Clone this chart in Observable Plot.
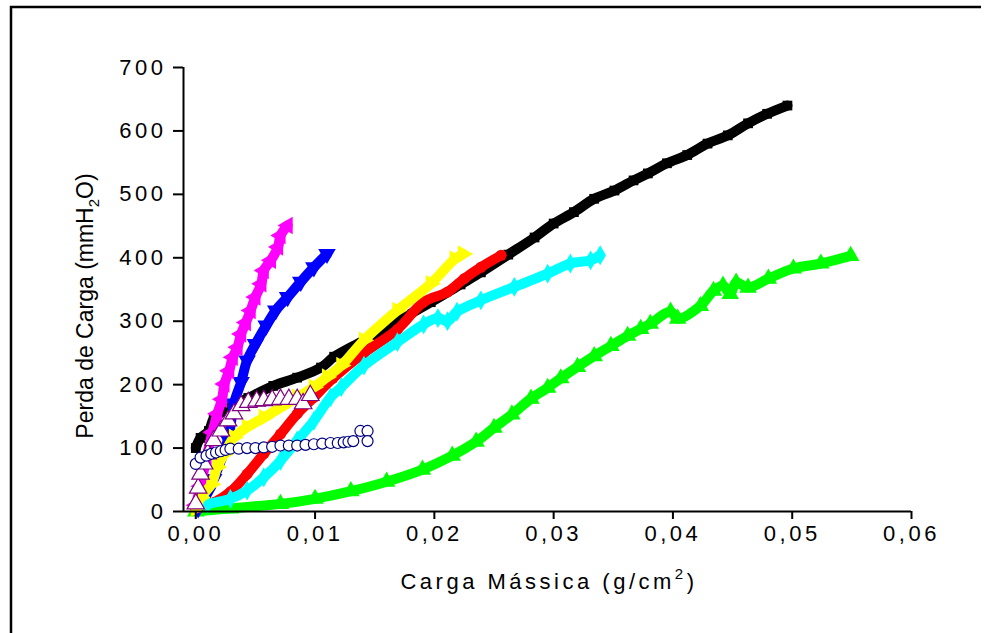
<!DOCTYPE html>
<html><head><meta charset="utf-8">
<script src="https://cdn.jsdelivr.net/npm/d3@7"></script>
<script src="https://cdn.jsdelivr.net/npm/@observablehq/plot@0.6"></script>
<style>
html,body{margin:0;padding:0;background:#fff;}
#chart{position:relative;width:987px;height:633px;}
</style></head><body><div id="chart"></div>
<script>
// ---- data ----
const xTicks = [0, 0.01, 0.02, 0.03, 0.04, 0.05, 0.06];
const xTickLabels = ["0,00", "0,01", "0,02", "0,03", "0,04", "0,05", "0,06"];
const yTicks = [0, 100, 200, 300, 400, 500, 600, 700];

const blackX = [0, 0.0004, 0.0011, 0.0015, 0.0027, 0.0044, 0.0065, 0.0085, 0.0105, 0.0116, 0.0141, 0.0169, 0.0197, 0.0222, 0.0239, 0.0262, 0.0284, 0.0300, 0.0317, 0.0334, 0.0351, 0.0367, 0.0379, 0.0395, 0.0412, 0.0429, 0.0446, 0.0463, 0.0479, 0.0496];
const blackY = [100, 116, 127, 146, 163, 179, 198, 211, 227, 244, 270, 300, 330, 358, 377, 405, 432, 454, 472, 493, 506, 522, 533, 549, 562, 580, 593, 612, 627, 640];

const redX = [0, 0.0015, 0.0029, 0.0043, 0.0057, 0.0071, 0.0085, 0.0099, 0.0115, 0.0141, 0.0169, 0.0191, 0.0211, 0.0225, 0.0239, 0.0256];
const redY = [3, 14, 31, 59, 91, 122, 154, 180, 210, 250, 287, 330, 346, 367, 385, 404];

const greenX = [0, 0.0029, 0.0071, 0.0100, 0.0130, 0.0160, 0.0190, 0.0215, 0.0235, 0.0250, 0.0265, 0.0281, 0.0295, 0.0306, 0.0320, 0.0334, 0.0348, 0.0362, 0.0373, 0.0381, 0.0398, 0.0404, 0.0423, 0.0434, 0.0442, 0.0448, 0.0453, 0.0463, 0.0480, 0.0501, 0.0524, 0.0549];
const greenY = [0, 5, 12, 20, 32, 47, 66, 88, 110, 132, 153, 178, 195, 210, 228, 245, 261, 277, 288, 296, 315, 304, 324, 348, 356, 343, 361, 353, 367, 383, 391, 403];

const blueX = [0.0002, 0.0010, 0.0015, 0.0027, 0.0032, 0.0038, 0.0043, 0.0050, 0.0059, 0.0067, 0.0077, 0.0088, 0.0099, 0.0110];
const blueY = [5, 30, 51, 114, 170, 204, 238, 264, 293, 317, 338, 362, 385, 406];

const cyanX = [0, 0.0010, 0.0029, 0.0043, 0.0057, 0.0071, 0.0085, 0.0099, 0.0113, 0.0122, 0.0141, 0.0169, 0.0191, 0.0203, 0.0211, 0.0219, 0.0239, 0.0267, 0.0295, 0.0314, 0.0331, 0.0339];
const cyanY = [9, 12, 20, 33, 54, 80, 112, 143, 180, 196, 230, 267, 295, 305, 300, 315, 333, 354, 375, 391, 396, 404];

const magentaX = [0, 0.0004, 0.0009, 0.0014, 0.0018, 0.0022, 0.0024, 0.0028, 0.0031, 0.0035, 0.0038, 0.0042, 0.0046, 0.0050, 0.0055, 0.0057, 0.0063, 0.0069, 0.0071, 0.0077];
const magentaY = [10, 40, 85, 125, 154, 177, 201, 222, 243, 259, 280, 298, 317, 338, 359, 380, 396, 417, 435, 451];

const yellowX = [0, 0.0004, 0.0013, 0.0018, 0.0024, 0.0032, 0.0043, 0.0057, 0.0071, 0.0085, 0.0099, 0.0110, 0.0122, 0.0141, 0.0169, 0.0197, 0.0217, 0.0224];
const yellowY = [5, 22, 43, 70, 91, 117, 133, 148, 164, 180, 196, 212, 230, 270, 317, 359, 398, 406];

const purpleX = [0, 0.0002, 0.0004, 0.0007, 0.0010, 0.0015, 0.0021, 0.0027, 0.0032, 0.0038, 0.0044, 0.0051, 0.0057, 0.0064, 0.0071, 0.0078, 0.0085, 0.0090, 0.0096];
const purpleY = [12, 37, 59, 75, 91, 112, 127, 143, 154, 167, 172, 174, 175, 176, 177, 177, 177, 170, 183];

const navyX = [0, 0.0004, 0.0009, 0.0013, 0.0017, 0.0021, 0.0025, 0.0029, 0.0036, 0.0043, 0.0050, 0.0057, 0.0064, 0.0071, 0.0078, 0.0085, 0.0092, 0.0099, 0.0106, 0.0113, 0.0119, 0.0124, 0.0128, 0.0132, 0.0138, 0.0144, 0.0144];
const navyY = [75, 85, 88, 91, 93, 95, 97, 99, 99, 100, 100, 101, 102, 104, 104, 104, 105, 106, 107, 108, 108, 109, 110, 111, 127, 127, 111];

// ---- styles ----
const styles = [
  {x: blackX, y: blackY, color: "#000000", symbol: "square", r: 5.5, rotate: 0, hollow: false},
  {x: redX, y: redY, color: "#FF0000", symbol: "circle", r: 5.5, rotate: 0, hollow: false},
  {x: greenX, y: greenY, color: "#00FF00", symbol: "triangle", r: 6.5, rotate: 0, hollow: false},
  {x: blueX, y: blueY, color: "#0000FF", symbol: "triangle", r: 6.5, rotate: 180, hollow: false},
  {x: cyanX, y: cyanY, color: "#00FFFF", symbol: "diamond", r: 6, rotate: 0, hollow: false},
  {x: magentaX, y: magentaY, color: "#FF00FF", symbol: "triangle", r: 6.5, rotate: -90, hollow: false},
  {x: yellowX, y: yellowY, color: "#FFFF00", symbol: "triangle", r: 6.5, rotate: 90, hollow: false},
  {x: purpleX, y: purpleY, color: "#800080", symbol: "triangle", r: 6.5, rotate: 0, hollow: true},
  {x: navyX, y: navyY, color: "#000080", symbol: "circle", r: 5.5, rotate: 0, hollow: true}
];

const xMin = -0.00103;
const marks = [];
for (const s of styles) {
  const data = s.x.map((x, i) => ({x, y: s.y[i]}));
  if (!s.hollow) {
    marks.push(Plot.line(data, {x: "x", y: "y", stroke: s.color, strokeWidth: 10, strokeLinejoin: "round", strokeLinecap: "round", curve: "catmull-rom"}));
  } else {
    marks.push(Plot.line(data, {x: "x", y: "y", stroke: s.color, strokeWidth: 1.2, curve: "catmull-rom"}));
  }
  marks.push(Plot.dot(data, {
    x: "x", y: "y", symbol: s.symbol, r: s.r, rotate: s.rotate,
    fill: s.hollow ? "white" : s.color,
    stroke: s.hollow ? s.color : "none", strokeWidth: 1.2
  }));
}

const chart = Plot.plot({
  width: 987,
  height: 633,
  marginLeft: 183,
  marginRight: 76,
  marginTop: 67,
  marginBottom: 122,
  style: {fontFamily: "'Liberation Sans', Arial, sans-serif", fontSize: "22px", background: "white", color: "black"},
  x: {domain: [xMin, 0.06], label: null},
  y: {domain: [0, 700], label: null},
  marks: [
    ...marks,
    Plot.ruleY([0], {strokeWidth: 2}),
    Plot.ruleX([xMin], {strokeWidth: 2}),
    Plot.axisX(xTicks, {tickSize: 8, tickPadding: 6, strokeWidth: 2, fontSize: 22, label: null,
      tickFormat: d => xTickLabels[xTicks.indexOf(d)]}),
    Plot.axisY(yTicks, {tickSize: 10, tickPadding: 7, strokeWidth: 2, fontSize: 22, label: null})
  ]
});
document.getElementById("chart").appendChild(chart);

const svg = d3.select(chart);
svg.selectAll('g[aria-label="x-axis tick label"] text').style("letter-spacing", "3.5px");
svg.selectAll('g[aria-label="y-axis tick label"] text').style("letter-spacing", "3.5px");

// frame
svg.append("path").attr("d", "M11,633V7H981").attr("fill", "none").attr("stroke", "black").attr("stroke-width", 2.5);

// axis titles
const yl = svg.append("text")
  .attr("transform", "translate(93,306) rotate(-90)")
  .attr("text-anchor", "middle")
  .attr("font-family", "'Liberation Sans', Arial, sans-serif")
  .attr("font-size", 23).attr("fill", "black");
yl.append("tspan").text("Perda de Carga (mmH");
yl.append("tspan").attr("font-size", 15).attr("dy", 6).text("2");
yl.append("tspan").attr("dy", -6).text("O)");

const xl = svg.append("text")
  .attr("x", 549).attr("y", 589)
  .attr("text-anchor", "middle")
  .attr("font-family", "'Liberation Sans', Arial, sans-serif")
  .attr("font-size", 22).attr("fill", "black")
  .style("letter-spacing", "3.5px");
xl.append("tspan").text("Carga Mássica (g/cm");
xl.append("tspan").attr("font-size", 15).attr("dy", -10).text("2");
xl.append("tspan").attr("dy", 10).text(")");
</script>
</body></html>
